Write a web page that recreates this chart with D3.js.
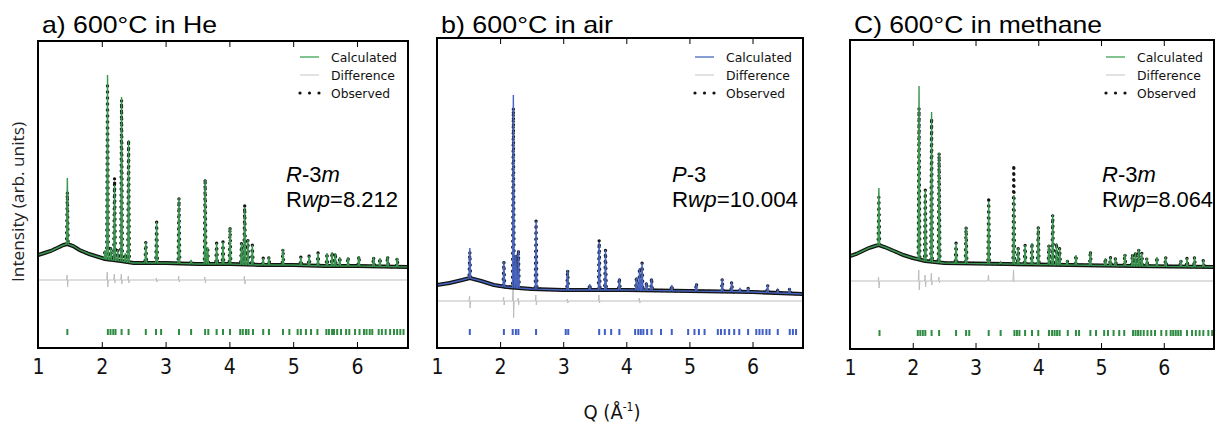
<!DOCTYPE html>
<html><head><meta charset="utf-8">
<script src="https://cdn.jsdelivr.net/npm/d3@7"></script>
<style>body{margin:0;background:#fff}svg{display:block}</style>
</head><body><svg id="chart" width="1221" height="425"></svg>
<script>
// ---------------- DATA ----------------
const xDomain = [1, 6.8];
const xTicks = [1, 2, 3, 4, 5, 6];
const titles = ["a) 600°C in He", "b) 600°C in air", "C) 600°C in methane"];
const phaseLabels = ["R-3m", "P-3", "R-3m"];
const rwpValues = ["8.212", "10.004", "8.064"];
const legendLabels = ["Calculated", "Difference", "Observed"];
const xLabel = "Q (Å", xLabelSup = "-1";
const yLabel = "Intensity (arb. units)";

// background [Q, intensity]
const bgA = [[1.0,93],[1.1,95],[1.2,97],[1.3,100],[1.4,103],[1.46,104],[1.55,102],[1.65,98],[1.8,94],[1.95,91],[2.05,89],[2.3,87],[2.5,85],[3.0,85],[3.5,84],[4.0,84],[4.5,83],[5.0,83],[5.5,82],[6.0,82],[6.8,81]];
// peaks [Q, calculated top, observed top]
const peaksA = [[1.46,170,156],[2.05,98,98],[2.09,273,262],[2.14,100,100],[2.20,163,170],[2.25,98,98],[2.31,251,248],[2.37,95,95],[2.42,208,208],[2.69,106,106],[2.86,126,126],[3.21,150,150],[3.40,88,88],[3.62,169,169],[3.66,101,101],[3.80,105,105],[3.90,106,106],[4.01,121,121],[4.19,105,105],[4.24,141,143],[4.29,108,108],[4.36,103,103],[4.53,90,90],[4.62,91,91],[4.84,99,99],[5.12,91,91],[5.25,92,92],[5.39,95,95],[5.53,95,95],[5.61,96,96],[5.66,95,95],[5.73,91,91],[5.86,91,91],[6.03,92,92],[6.26,91,91],[6.36,90,90],[6.48,92,92],[6.63,90,90]];
const diffLevelA = 68;
// difference spikes [Q, high, low]
const diffA = [[1.46,73,61],[2.09,76,61],[2.20,74,65],[2.31,74,64],[2.42,72,65],[2.86,70,66],[3.21,72,66],[3.62,71,65],[4.24,72,64]];
const reflA = [1.46,2.095,2.137,2.18,2.215,2.31,2.42,2.69,2.85,2.93,3.21,3.40,3.62,3.67,3.80,3.90,4.01,4.17,4.21,4.26,4.30,4.37,4.53,4.62,4.84,4.94,5.07,5.12,5.20,5.28,5.38,5.52,5.56,5.61,5.64,5.69,5.75,5.83,5.88,5.97,6.04,6.11,6.15,6.20,6.24,6.34,6.39,6.45,6.52,6.58,6.63,6.68,6.73];

const bgB = [[1.0,63],[1.2,65],[1.4,68],[1.52,70],[1.7,67],[1.9,63],[2.1,61],[2.5,59],[3.0,58],[4.0,58],[5.0,57],[6.0,56],[6.8,54]];
const peaksB = [[1.52,100,96],[2.06,86,86],[2.21,253,240],[2.25,93,93],[2.29,98,98],[2.57,127,127],[3.07,78,78],[3.42,64,64],[3.57,106,108],[3.67,98,98],[3.89,70,70],[4.16,71,71],[4.21,80,80],[4.25,85,85],[4.32,66,66],[4.40,70,70],[4.72,63,63],[5.11,65,65],[5.52,69,69],[5.67,66,66],[5.80,60,60],[5.93,60,60],[6.24,63,63],[6.40,58,58],[6.59,60,60]];
const diffLevelB = 47;
const diffB = [[1.52,52,40],[2.06,51,43],[2.21,71,30],[2.29,50,43],[2.57,53,43],[3.07,49,45],[3.57,53,45],[4.21,50,45]];
const reflB = [1.52,2.06,2.20,2.25,2.29,2.57,3.04,3.08,3.57,3.66,3.76,3.89,4.14,4.19,4.23,4.27,4.33,4.40,4.55,4.72,4.98,5.08,5.15,5.24,5.45,5.50,5.56,5.63,5.71,5.79,5.93,6.06,6.11,6.16,6.22,6.27,6.40,6.59,6.64,6.69];

const bgC = [[1.0,93],[1.1,95],[1.2,98],[1.3,101],[1.4,103],[1.46,104],[1.55,102],[1.7,98],[1.85,94],[2.0,91],[2.2,88],[2.5,86],[3.5,85],[4.5,84],[5.5,83],[6.8,82]];
const peaksC = [[1.46,161,152],[2.10,263,241],[2.20,159,159],[2.30,237,231],[2.42,196,196],[2.69,106,106],[2.85,122,122],[3.21,147,152],[3.40,87,87],[3.61,154,184],[3.68,101,101],[3.79,104,104],[3.90,106,106],[4.00,122,122],[4.17,104,104],[4.23,134,134],[4.29,106,106],[4.34,101,101],[4.46,89,89],[4.60,94,94],[4.83,98,98],[5.07,91,91],[5.15,92,92],[5.23,91,91],[5.38,95,95],[5.50,95,95],[5.55,97,97],[5.60,100,100],[5.65,96,96],[5.73,91,91],[5.89,92,92],[6.03,92,92],[6.27,89,89],[6.37,91,91],[6.49,92,92],[6.63,89,89]];
const diffLevelC = 68;
const diffC = [[1.46,72,61],[2.10,79,59],[2.20,74,62],[2.30,76,64],[2.42,72,66],[3.21,74,68],[3.61,79,67]];
const reflC = [1.47,2.08,2.12,2.16,2.20,2.30,2.42,2.69,2.85,2.90,3.21,3.40,3.62,3.66,3.70,3.79,3.90,4.00,4.17,4.22,4.26,4.30,4.34,4.47,4.60,4.65,4.83,4.92,5.05,5.11,5.20,5.29,5.37,5.51,5.55,5.59,5.63,5.68,5.74,5.80,5.86,5.96,6.04,6.11,6.15,6.19,6.23,6.27,6.37,6.45,6.51,6.57,6.63,6.71,6.77];

// ---------------- LAYOUT / STYLE ----------------
const frames = [{l:38,r:408,t:41,b:348},{l:437,r:803,t:38,b:348},{l:850,r:1214,t:40,b:349}];
const styles = [
  {calc:"#3a9750", leg:"#62b574", refl:"#2f8c42"},
  {calc:"#4764c0", leg:"#6a84cc", refl:"#3f5fc4"},
  {calc:"#3a9750", leg:"#62b574", refl:"#2f8c42"}
];
const titleLen = [175, 172, 248];
const rwpLen = [112, 126, 111];
const annX = [286, 672, 1102];
const panels = [
  {bg:bgA, peaks:peaksA, dl:diffLevelA, diff:diffA, refl:reflA},
  {bg:bgB, peaks:peaksB, dl:diffLevelB, diff:diffB, refl:reflB},
  {bg:bgC, peaks:peaksC, dl:diffLevelC, diff:diffC, refl:reflC}
];
const PW = 0.013;
const tickFont = "'DejaVu Sans Condensed','DejaVu Sans',sans-serif";

const svg = d3.select("#chart");

function curve(bg, peaks, k) {
  const bgAt = d3.scaleLinear().domain(bg.map(d => d[0])).range(bg.map(d => d[1]));
  const pts = bg.filter(d => !peaks.some(p => Math.abs(p[0] - d[0]) <= PW)).map(d => [d[0], d[1]]);
  peaks.forEach(p => {
    pts.push([p[0] - PW, bgAt(p[0] - PW)], [p[0], p[k]], [p[0] + PW, bgAt(p[0] + PW)]);
  });
  return pts.sort((a, b) => a[0] - b[0]);
}
function diffCurve(level, spikes) {
  const pts = [[xDomain[0], level]];
  spikes.forEach(s => {
    pts.push([s[0] - PW, level], [s[0] - PW * 0.3, s[1]], [s[0] + PW * 0.3, s[2]], [s[0] + PW, level]);
  });
  pts.push([xDomain[1], level]);
  return pts;
}

panels.forEach((P, i) => {
  const f = frames[i], st = styles[i];
  const x = d3.scaleLinear().domain(xDomain).range([f.l, f.r]);
  const y = d3.scaleLinear().domain([0, f.b - f.t]).range([f.b, f.t]);
  const line = d3.line().x(d => x(d[0])).y(d => y(d[1]));
  const g = svg.append("g");
  const cid = "clip" + i;
  g.append("clipPath").attr("id", cid).append("rect")
    .attr("x", f.l).attr("y", f.t).attr("width", f.r - f.l).attr("height", f.b - f.t);
  const pg = g.append("g").attr("clip-path", `url(#${cid})`);

  // difference
  pg.append("path").attr("d", line(diffCurve(P.dl, P.diff)))
    .attr("fill", "none").attr("stroke", "#bdbdbd").attr("stroke-width", 1);
  // observed background band
  pg.append("path").attr("d", line(P.bg))
    .attr("fill", "none").attr("stroke", "#141414").attr("stroke-width", 4);
  // observed dots
  pg.append("path").attr("d", line(curve(P.bg, P.peaks, 2)))
    .attr("fill", "none").attr("stroke", "#141414").attr("stroke-width", 3.4)
    .attr("stroke-linecap", "round").attr("stroke-dasharray", "0 6");
  // calculated
  pg.append("path").attr("d", line(curve(P.bg, P.peaks, 1)))
    .attr("fill", "none").attr("stroke", st.calc).attr("stroke-width", 1.4);

  // reflection markers
  pg.selectAll("rect.refl").data(P.refl).join("rect").attr("class", "refl")
    .attr("x", d => x(d) - 1).attr("y", y(19)).attr("width", 2).attr("height", y(13) - y(19))
    .attr("fill", st.refl);

  // axes
  const ax = g.append("g").attr("transform", `translate(0,${f.b})`)
    .call(d3.axisBottom(x).tickValues(xTicks).tickSize(-6).tickPadding(11).tickFormat(d3.format("d")));
  ax.select(".domain").remove();
  ax.selectAll("line").attr("stroke", "#000").attr("stroke-width", 1);
  ax.selectAll("text").attr("font-family", tickFont).attr("font-size", 21).attr("fill", "#111");
  const at = g.append("g").attr("transform", `translate(0,${f.t})`)
    .call(d3.axisTop(x).tickValues(xTicks.slice(1)).tickSize(-6).tickFormat(""));
  at.select(".domain").remove();
  at.selectAll("line").attr("stroke", "#000");

  // frame
  g.append("rect").attr("x", f.l).attr("y", f.t).attr("width", f.r - f.l).attr("height", f.b - f.t)
    .attr("fill", "none").attr("stroke", "#000").attr("stroke-width", 2);

  // title
  g.append("text").attr("x", f.l + 4).attr("y", 33).text(titles[i])
    .attr("font-family", "'Liberation Sans',Arial,sans-serif").attr("font-size", 24).attr("fill", "#000")
    .attr("textLength", titleLen[i]).attr("lengthAdjust", "spacingAndGlyphs");

  // legend
  const lx = f.r - 108, tx = f.r - 77, rows = [57, 75, 93];
  const lg = g.append("g").attr("font-family", "'DejaVu Sans',sans-serif").attr("font-size", 13).attr("fill", "#111");
  lg.append("line").attr("x1", lx).attr("x2", lx + 19).attr("y1", rows[0]).attr("y2", rows[0])
    .attr("stroke", st.leg).attr("stroke-width", 1.6);
  lg.append("line").attr("x1", lx).attr("x2", lx + 19).attr("y1", rows[1]).attr("y2", rows[1])
    .attr("stroke", "#cfcfcf").attr("stroke-width", 1.2);
  [0, 9.5, 19].forEach(dx => lg.append("circle").attr("cx", lx + dx).attr("cy", rows[2]).attr("r", 1.6).attr("fill", "#111"));
  legendLabels.forEach((t, k) => lg.append("text").attr("x", tx).attr("y", rows[k] + 5).text(t)
    .attr("textLength", [66, 64, 59][k]).attr("lengthAdjust", "spacingAndGlyphs"));

  // annotation
  const an = g.append("g").attr("font-family", "'Liberation Sans',Arial,sans-serif").attr("font-size", 22).attr("fill", "#000");
  const t1 = an.append("text").attr("x", annX[i]).attr("y", 182);
  phaseLabels[i].split(/(-3)/).filter(s => s.length).forEach(s =>
    t1.append("tspan").text(s).attr("font-style", s === "-3" ? "normal" : "italic"));
  const t2 = an.append("text").attr("x", annX[i]).attr("y", 207)
    .attr("textLength", rwpLen[i]).attr("lengthAdjust", "spacingAndGlyphs");
  t2.append("tspan").text("R");
  t2.append("tspan").text("wp").attr("font-style", "italic");
  t2.append("tspan").text("=" + rwpValues[i]);
});

// y label
svg.append("text").attr("transform", "translate(24,202) rotate(-90)").attr("text-anchor", "middle")
  .attr("font-family", "'Open Sans','DejaVu Sans',sans-serif").attr("font-size", 16).attr("fill", "#222")
  .attr("textLength", 160).attr("lengthAdjust", "spacingAndGlyphs")
  .text(yLabel);
// x label
const xl = svg.append("text").attr("x", 612).attr("y", 419).attr("text-anchor", "middle")
  .attr("font-family", tickFont).attr("font-size", 20).attr("fill", "#111");
xl.append("tspan").text(xLabel);
xl.append("tspan").text(xLabelSup).attr("font-size", 12).attr("dy", -8);
xl.append("tspan").text(")").attr("font-size", 20).attr("dy", 8);
</script>
</body></html>
